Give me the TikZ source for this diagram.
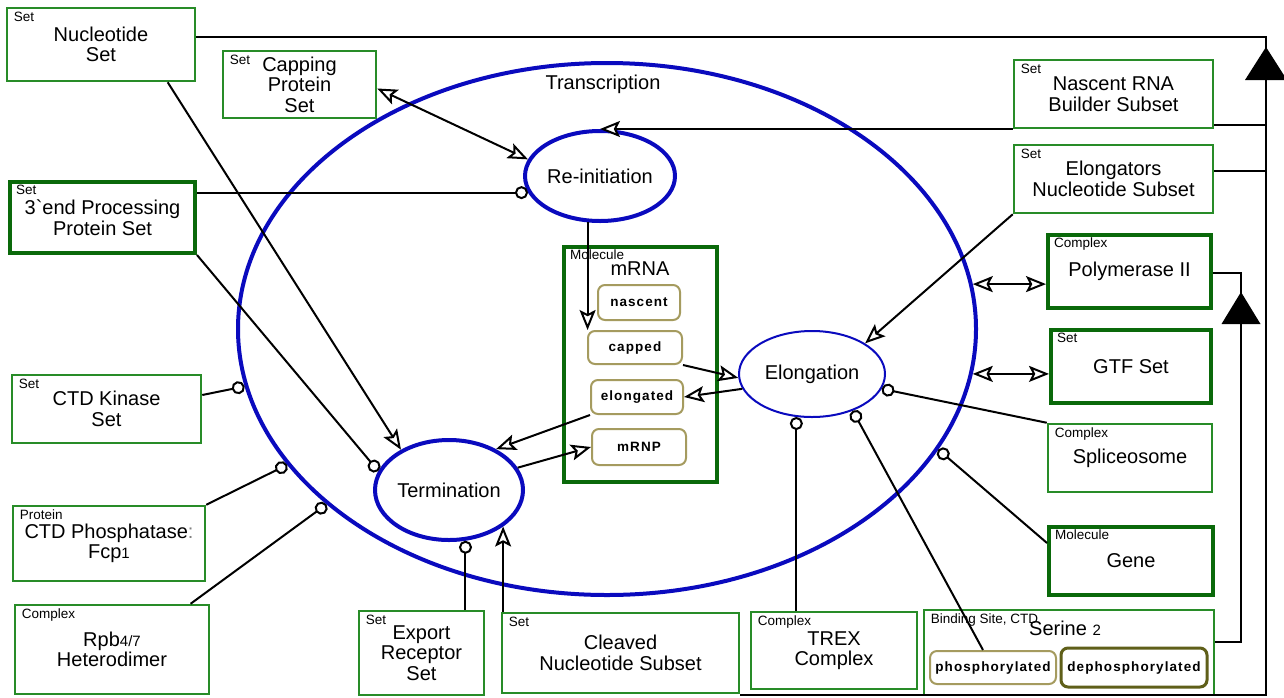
\documentclass[tikz,border=0pt]{standalone}
\usepackage{fontspec}
\setmainfont{Liberation Sans}
\newfontfamily\statefont[LetterSpace=8]{Liberation Sans}
\usetikzlibrary{arrows.meta,shapes.geometric,calc}

\definecolor{entgreen}{RGB}{40,140,40}
\definecolor{entdark}{RGB}{10,105,10}
\definecolor{procblue}{RGB}{10,10,190}
\definecolor{stateolive}{RGB}{165,155,95}
\definecolor{statedark}{RGB}{95,95,25}

\newcommand\mainfs{\fontsize{20}{20.5}\selectfont}
\newcommand\typefs{\fontsize{13.5}{13.5}\selectfont}
\newcommand\statefs{\statefont\bfseries\fontsize{13.5}{13.5}\selectfont}
\newcommand\lowfig[1]{{\fontsize{15}{15}\selectfont #1}}

\tikzset{
  ohead/.tip={Stealth[open,fill=white,length=20pt,width=16pt,inset=4pt]},
  chead/.tip={Circle[open,fill=white,length=13pt]},
}

\begin{document}
\begin{tikzpicture}[x=1pt,y=-1pt,
  ent/.style={draw=entgreen, line width=2.5pt, fill=white, inner sep=0pt,
    align=center, font=\mainfs},
  entthick/.style={ent, draw=entdark, line width=4pt},
  typed/.style={label={[kindlabel]north west:#1}},
  kindlabel/.style={anchor=north west, inner sep=0pt, font=\typefs,
    xshift=8pt, yshift=-5pt},
  stbox/.style={draw=stateolive, line width=2pt, rounded corners=7pt,
    fill=white, inner sep=0pt, font=\statefs},
  proc/.style={ellipse, draw=procblue, line width=4pt, inner sep=0pt,
    font=\mainfs},
  link/.style={line width=2pt, black},
  cat/.style={link, -{chead}},
  cons/.style={link, -{ohead}},
  both/.style={link, {ohead}-{ohead}},
]
\useasboundingbox (0,0) rectangle (1284,697);
\fill[white] (0,0) rectangle (1284,697);

% compartment-like process and its label
\node[proc, minimum width=738pt, minimum height=532pt] (trans) at (607,329) {};
\node[font=\mainfs] (translabel) at (603,84) {Transcription};

% sub-processes
\node[proc, minimum width=150pt, minimum height=90pt] (reinit) at (600,176) {Re-initiation};
\node[proc, line width=2pt, minimum width=146pt, minimum height=86pt] (elong) at (812,374) {Elongation};
\node[proc, minimum width=148pt, minimum height=100pt] (term) at (449,490) {Termination};

% entities on the left
\node[ent, typed=Set, minimum width=188pt, minimum height=73pt] (nucl) at (101,44.5) {Nucleotide\\Set};
\node[ent, typed=Set, minimum width=153pt, minimum height=67pt] (capping) at (299.5,84.5) {Capping\\Protein\\Set};
\node[entthick, typed=Set, minimum width=185pt, minimum height=71pt] (threeend) at (102.5,217.5) {3\textasciigrave end Processing\\Protein Set};
\node[ent, typed=Set, minimum width=189pt, minimum height=68pt] (kinase) at (106.5,409) {CTD Kinase\\Set};
\node[ent, typed=Protein, minimum width=192pt, minimum height=75pt] (phosph) at (109,543.5) {CTD Phosphatase\textcolor{gray}{:}\\Fcp\lowfig{1}};
\node[ent, typed=Complex, minimum width=194pt, minimum height=89pt] (rpb) at (112,649.5) {Rpb\lowfig{4/7}\\Heterodimer};

% entities at the bottom
\node[ent, typed=Set, minimum width=125pt, minimum height=84pt] (export) at (421.5,653) {Export\\Receptor\\Set};
\node[ent, typed=Set, minimum width=237pt, minimum height=80pt] (cleaved) at (620.5,653) {Cleaved\\Nucleotide Subset};
\node[ent, typed=Complex, minimum width=166pt, minimum height=77pt] (trex) at (834,650.5) {TREX\\Complex};
\node[ent, typed={{Binding Site, CTD}}, minimum width=290pt, minimum height=85pt] (serine) at (1069,652.5) {};
\node[font=\mainfs] (serinename) at (1065,628) {Serine \lowfig{2}};
\node[stbox, minimum width=126pt, minimum height=33pt] (phos) at (993,667.5) {phosphorylated};
\node[stbox, draw=statedark, line width=3pt, minimum width=146pt, minimum height=39pt] (dephos) at (1134,667.5) {dephosphorylated};

% entities on the right
\node[ent, typed=Set, minimum width=199pt, minimum height=68pt] (nascent) at (1113.5,94) {Nascent RNA\\Builder Subset};
\node[ent, typed=Set, minimum width=199pt, minimum height=68pt] (elongators) at (1113.5,179) {Elongators\\Nucleotide Subset};
\node[entthick, typed=Complex, minimum width=163pt, minimum height=73pt] (poly) at (1129.5,271.5) {Polymerase II};
\node[entthick, typed=Set, minimum width=160pt, minimum height=73pt] (gtf) at (1131,366.5) {GTF Set};
\node[ent, typed=Complex, minimum width=164pt, minimum height=68pt] (splice) at (1130,458) {Spliceosome};
\node[entthick, typed=Molecule, minimum width=164pt, minimum height=68pt] (gene) at (1131,561) {Gene};

% mRNA and its states
\node[entthick, typed=Molecule, minimum width=153pt, minimum height=235pt] (mrna) at (640.5,364.5) {};
\node[font=\mainfs] (mrnaname) at (640,269) {mRNA};
\node[stbox, minimum width=82pt, minimum height=35pt] (snascent) at (639,302.5) {nascent};
\node[stbox, minimum width=94pt, minimum height=33pt] (capped) at (635,347.5) {capped};
\node[stbox, minimum width=92pt, minimum height=34pt] (elongated) at (637,397) {elongated};
\node[stbox, minimum width=94pt, minimum height=36pt] (mrnp) at (639,447) {mRNP};

% subset hierarchy of the nucleotide set
\coordinate (hubT) at (1266,37);
\coordinate (hubB) at (1266,695);
\coordinate (hubNas) at (1266,125);
\coordinate (hubElo) at (1266,171);
\draw[link] (nucl.east |- hubT) -- (hubT) -- (hubB) -- (cleaved.east |- hubB);
\draw[link] (nascent.east |- hubNas) -- (hubNas);
\draw[link] (elongators.east |- hubElo) -- (hubElo);
\fill ($(hubT)+(0,10)$) -- ++(-21,33) -- ++(42,0) -- cycle;

% the CTD site belongs to polymerase II
\coordinate (partT) at (1241,273);
\coordinate (partB) at (1241,642);
\draw[link] (serine.east |- partB) -- (partB) -- (partT) -- (poly.east |- partT);
\fill ($(partT)+(0,19)$) -- ++(-19.5,32) -- ++(39,0) -- cycle;

% re-initiation
\draw[both] ($(capping.east)+(0,4)$) -- (reinit.167);
\draw[cat] (threeend.east |- reinit.193) -- (reinit.193);
\draw[cons] (nascent.south west |- reinit.north) -- (reinit.north);
\draw[cons] (reinit.255) -- (reinit.255 |- capped.north);

% elongation
\draw[cons] (capped.south east) -- (elong.183);
\draw[cons] (elong.192) -- (elongated.east);
\draw[cons] (elongators.south west) -- (elong.30);
\draw[cat] (splice.north west) -- (elong.348);
\draw[cat] (elong.250 |- trex.north) -- (elong.250);
\draw[cat] ($(phos.north)+(-10,0)$) -- (elong.318);

% termination
\draw[cons] (elongated.south west) -- (term.41);
\draw[cons] (term.18) -- (mrnp.west);
\draw[cons] ($(nucl.south)!0.7!(nucl.south east)$) -- (term.140);
\draw[cat] (threeend.south east) -- (term.165.5);
\draw[cat] (term.288 |- export.north) -- (term.288);
\draw[cons] (term.326 |- cleaved.north) -- (term.326);

% regulators of transcription as a whole
\draw[cat] ($(kinase.east)+(0,-14)$) -- (trans.189);
\draw[cat] (phosph.north east) -- (trans.203);
\draw[cat] ($(rpb.north)!0.8!(rpb.north east)$) -- (trans.212.4);
\draw[cat] ($(gene.west)+(0,-18)$) -- (trans.340.2);
\draw[both] (trans.7.3) -- (trans.7.3 -| poly.west);
\draw[both] (trans.353.6) -- (trans.353.6 -| gtf.west);
\end{tikzpicture}
\end{document}
